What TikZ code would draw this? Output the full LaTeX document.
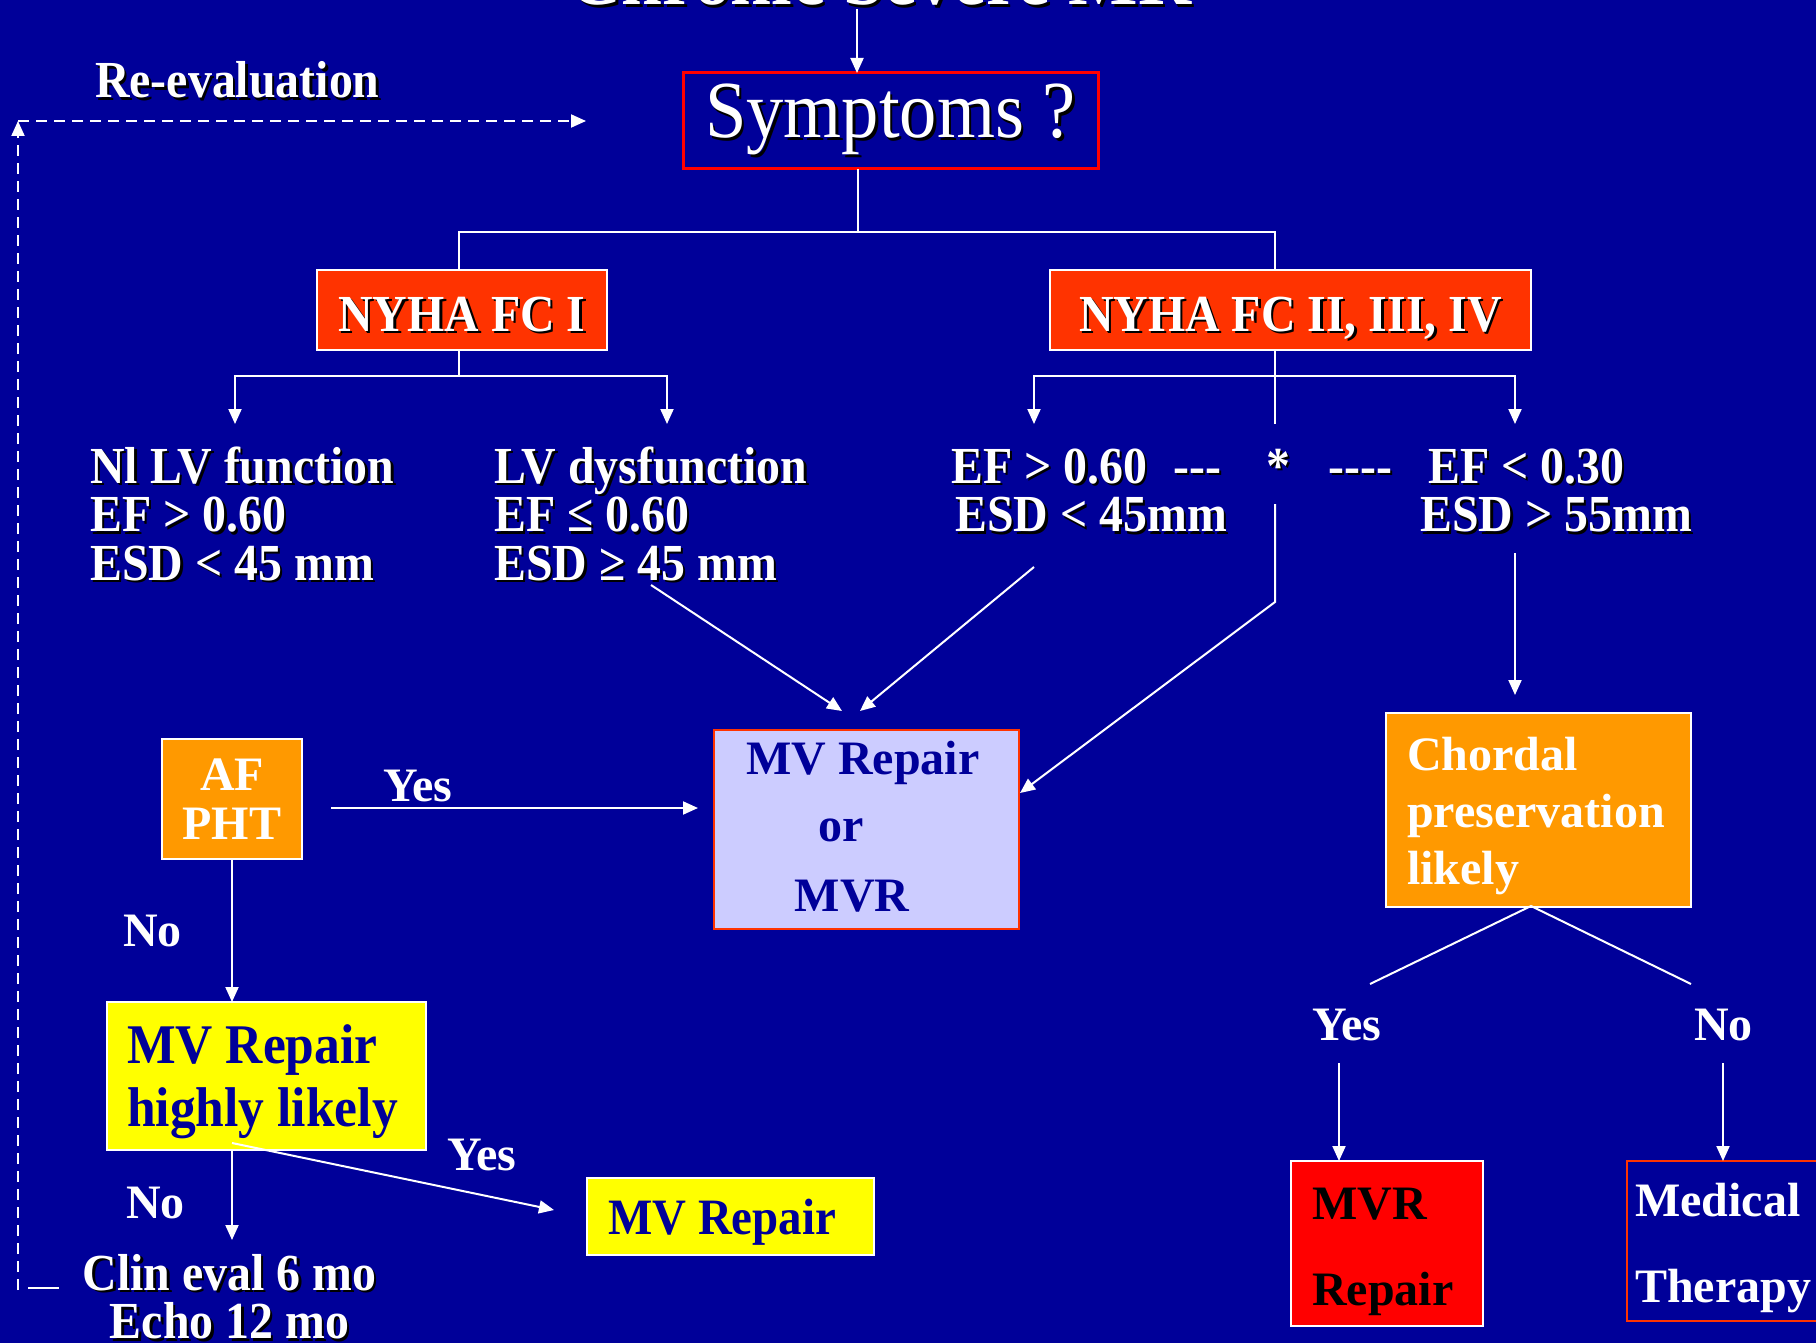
\documentclass[tikz,border=0pt]{standalone}
\usepackage{fontspec}
\setmainfont{Liberation Serif}
\newfontfamily\cond[FakeStretch=0.92]{Liberation Serif}
\usetikzlibrary{arrows.meta}
\definecolor{bg}{HTML}{000099}
\definecolor{ored}{HTML}{FF3300}
\definecolor{orng}{HTML}{FF9900}
\definecolor{lav}{HTML}{CCCCFF}
\definecolor{yel}{HTML}{FFFF00}
\definecolor{rd}{HTML}{FF0000}
\newcommand\shd[1]{\rlap{\kern2.5pt\raisebox{-2.5pt}{\textcolor{black}{#1}}}#1}
\newcommand\hy{\mbox{-}}
\begin{document}
\begin{tikzpicture}[x=1pt,y=-1pt,
 ln/.style={draw=white, line width=2pt},
 arr/.style={ln, -{Triangle[length=15pt,width=13pt]}},
 dsh/.style={ln, dash pattern=on 11pt off 7pt},
 box/.style={draw=white, line width=2.5pt, inner sep=0pt, outer sep=0pt},
 sh/.style={text=white, inner sep=0pt, align=left, font=\cond\bfseries\fontsize{52}{48.6}\selectfont},
 pl/.style={text=white, inner sep=0pt, align=left, font=\bfseries\fontsize{48}{57}\selectfont},
 ]
\useasboundingbox (0,0) rectangle (1816,1343);
\fill[bg] (0,0) rectangle (1816,1343);

% title and symptoms
\node[sh, font=\cond\bfseries\fontsize{80}{80}\selectfont, anchor=base] (ttl) at (880,5) {\shd{Chronic Severe MR}};
\node[box, draw=rd, line width=3pt, minimum width=415pt, minimum height=96pt, text=white, font=\cond\fontsize{81}{81}\selectfont] (symp) at (890.5,121) {\shd{Symptoms ?}};
\coordinate (t0) at (857,9);
\draw[arr] (t0) -- (t0 |- symp.north);

% NYHA boxes
\node[box, fill=ored, minimum width=290pt, minimum height=80pt, text=white, font=\cond\bfseries\fontsize{52}{52}\selectfont, text height=42pt, text depth=0pt] (ny1) at (462,310) {\shd{NYHA FC I}};
\node[box, fill=ored, minimum width=481pt, minimum height=80pt, text=white, font=\cond\bfseries\fontsize{52}{52}\selectfont, text height=42pt, text depth=0pt] (ny2) at (1290.5,310) {\shd{NYHA FC II, III, IV}};

\coordinate (jm) at (858,232);
\coordinate (jl) at (459,232);
\coordinate (jr) at (1275,232);
\draw[ln] (jm |- symp.south) -- (jm);
\draw[ln] (jl |- ny1.north) -- (jl) -- (jr) -- (jr |- ny2.north);

% branches
\coordinate (k1) at (459,376); \coordinate (k1l) at (235,376); \coordinate (k1r) at (667,376);
\coordinate (a1) at (235,424); \coordinate (a2) at (667,424);
\draw[ln] (k1 |- ny1.south) -- (k1);
\draw[arr] (k1) -- (k1l) -- (a1);
\draw[arr] (k1) -- (k1r) -- (a2);
\coordinate (k2) at (1275,376); \coordinate (k2l) at (1034,376); \coordinate (k2r) at (1515,376);
\coordinate (a3) at (1034,424); \coordinate (a4) at (1515,424); \coordinate (a5) at (1275,424);
\draw[ln] (k2 |- ny2.south) -- (a5);
\draw[arr] (k2) -- (k2l) -- (a3);
\draw[arr] (k2) -- (k2r) -- (a4);

% criteria texts (base = baseline of last line)
\node[sh, anchor=base west] (nl) at (90,580.2) {\shd{Nl LV function}\\\shd{EF > 0.60}\\\shd{ESD < 45 mm}};
\node[sh, anchor=base west] (lvd) at (494,580.2) {\shd{LV dysfunction}\\\shd{EF ≤ 0.60}\\\shd{ESD ≥ 45 mm}};
\node[sh, anchor=base west] (efa) at (951,531.6) {\shd{EF > 0.60\hspace{26pt}\hy\hy\hy}\\\hspace*{4pt}\shd{ESD < 45mm}};
\node[sh, anchor=base] (star) at (1278,483) {\shd{*}};
\node[sh, anchor=base west] (dsh2) at (1328,483) {\shd{\hy\hy\hy\hy}};
\node[sh, anchor=base west] (efb) at (1420,531.6) {\hspace*{8pt}\shd{EF < 0.30}\\\shd{ESD > 55mm}};

% MV repair or MVR
\node[box, draw=ored, fill=lav, minimum width=305pt, minimum height=199pt] (mv) at (866.5,829.5) {};
\node[pl, text=bg, anchor=base] (mvt1) at (863,774) {MV Repair};
\node[pl, text=bg, anchor=base] (mvt2) at (841,841) {or};
\node[pl, text=bg, anchor=base] (mvt3) at (852,911) {MVR};
\coordinate (s1) at (651,585); \coordinate (e1) at (842,711);
\coordinate (s2) at (1034,567); \coordinate (e2) at (860,711);
\coordinate (s3) at (1275,504); \coordinate (m3) at (1275,602); \coordinate (e3) at (1020,793);
\draw[arr] (s1) -- (e1);
\draw[arr] (s2) -- (e2);
\draw[arr] (s3) -- (m3) -- (e3);

% AF PHT
\node[box, fill=orng, minimum width=140pt, minimum height=120pt, text=white, align=center, font=\bfseries\fontsize{48}{49}\selectfont] (af) at (232,799) {AF\\PHT};
\coordinate (y1) at (331,808);
\draw[arr, shorten >=16pt] (y1) -- (y1 -| mv.west);
\node[pl, anchor=base west] (yes1) at (383,801) {Yes};
\node[pl, anchor=base west] (no1) at (123,946) {No};

% MV Repair highly likely
\node[box, fill=yel, minimum width=319pt, minimum height=148pt] (yl) at (266.5,1076) {};
\node[sh, text=bg, font=\cond\bfseries\fontsize{56}{63}\selectfont, anchor=base west] (ylt) at (127,1126) {MV Repair\\highly likely};
\draw[arr] (af.south) -- (af.south |- yl.north);
\coordinate (c1) at (232,1240);
\draw[arr] (af.south |- yl.south) -- (c1);
\coordinate (d0) at (232,1143); \coordinate (d1) at (554,1210);
\draw[arr] (d0) -- (d1);
\node[pl, anchor=base west] (yes2) at (447,1170) {Yes};
\node[pl, anchor=base west] (no2) at (126,1218) {No};
\node[box, fill=yel, minimum width=287pt, minimum height=77pt] (mvr) at (730.5,1216.5) {};
\node[sh, text=bg, font=\cond\bfseries\fontsize{51}{51}\selectfont, anchor=base west] (mvrt) at (608,1234) {MV Repair};
\node[sh, align=center, anchor=base] (clin) at (229.5,1338.6) {\shd{Clin eval 6 mo}\\\shd{Echo 12 mo}};

% re-evaluation
\node[sh, anchor=base west] (reev) at (95,98) {\shd{Re-evaluation}};
\coordinate (r0) at (59,1288); \coordinate (r1) at (28,1288); \coordinate (r2) at (18,1290);
\coordinate (rc) at (18,121); \coordinate (r3) at (586,121);
\draw[ln] (r0) -- (r1);
\draw[dsh, -{Triangle[length=15pt,width=13pt]}] (r2) -- (rc);
\draw[dsh, -{Triangle[length=15pt,width=13pt]}] (rc) -- (r3);

% right side
\node[box, fill=orng, minimum width=305pt, minimum height=194pt] (ch) at (1538.5,810) {};
\node[pl, anchor=base west] (cht) at (1407,884) {Chordal\\preservation\\likely};
\coordinate (b0) at (1515,553);
\draw[arr, shorten >=18pt] (b0) -- (b0 |- ch.north);
\coordinate (apx) at (1531,906);
\coordinate (lyes) at (1370,984); \coordinate (lno) at (1691,984);
\draw[ln] (lyes) -- (apx) -- (lno);
\node[pl, anchor=base west] (yes3) at (1312,1040) {Yes};
\node[pl, anchor=base west] (no3) at (1694,1040) {No};
\node[box, fill=rd, minimum width=192pt, minimum height=165pt] (mvrr) at (1387,1243.5) {};
\node[pl, text=black, font=\bfseries\fontsize{48}{86}\selectfont, anchor=base west] (mvrrt) at (1312,1305) {MVR\\Repair};
\node[box, draw=ored, minimum width=223pt, minimum height=160pt] (med) at (1738.5,1241) {};
\node[pl, font=\bfseries\fontsize{48}{86}\selectfont, anchor=base west] (medt) at (1635,1302) {Medical\\Therapy};
\coordinate (v1) at (1339,1063);
\draw[arr] (v1) -- (v1 |- mvrr.north);
\coordinate (v2) at (1723,1063);
\draw[arr] (v2) -- (v2 |- med.north);
\end{tikzpicture}
\end{document}
